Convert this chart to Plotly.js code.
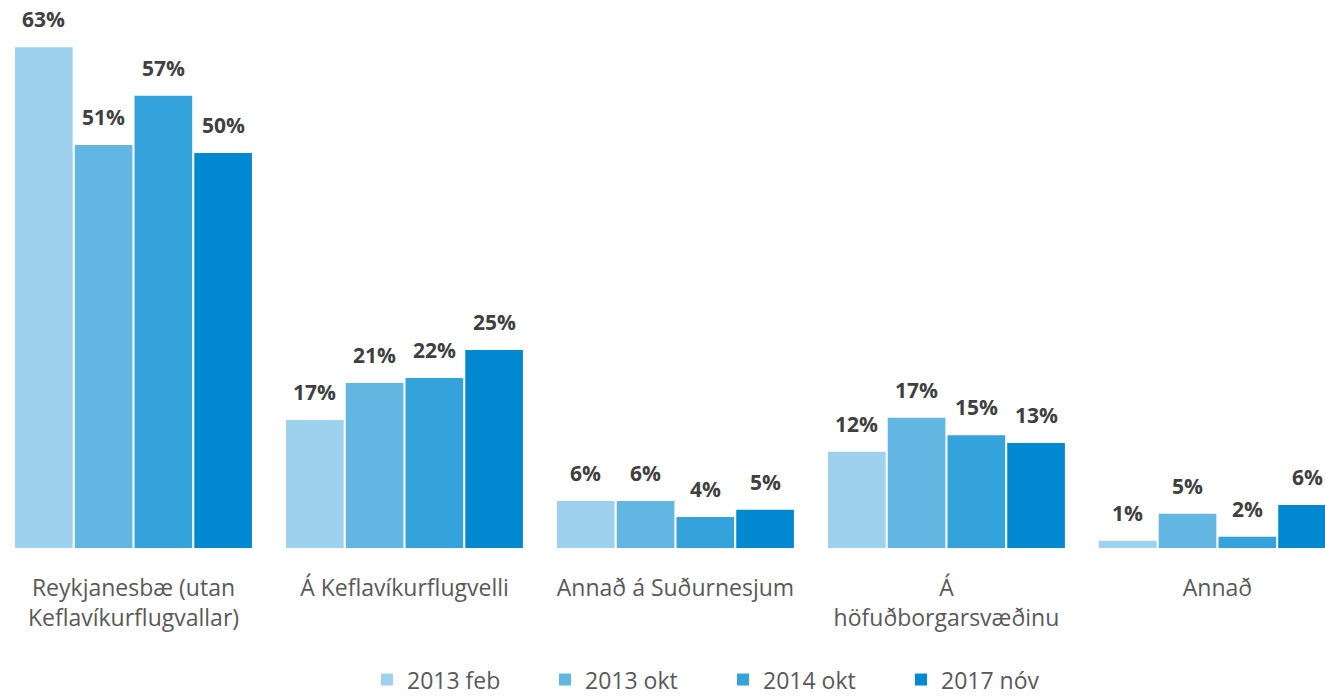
<!DOCTYPE html>
<html><head><meta charset="utf-8">
<script src="https://cdn.plot.ly/plotly-3.0.1.min.js"></script>
<style>html,body{margin:0;padding:0;background:#fff}#chart{width:1325px;height:697px}</style>
</head><body><div id="chart"></div>
<script>
const categories = ["Reykjanesbæ (utan<br>Keflavíkurflugvallar)", "Á Keflavíkurflugvelli", "Annað á Suðurnesjum", "Á<br>höfuðborgarsvæðinu", "Annað"];
const seriesNames = ["2013 feb", "2013 okt", "2014 okt", "2017 nóv"];
// bar heights
const s2013feb = [63.0, 16.1, 5.9, 12.1, 0.9];
const s2013okt = [50.7, 20.75, 5.9, 16.4, 4.3];
const s2014okt = [56.9, 21.4, 3.9, 14.2, 1.4];
const s2017nov = [49.7, 24.9, 4.8, 13.2, 5.4];
// printed labels
const l2013feb = ["63%", "17%", "6%", "12%", "1%"];
const l2013okt = ["51%", "21%", "6%", "17%", "5%"];
const l2014okt = ["57%", "22%", "4%", "15%", "2%"];
const l2017nov = ["50%", "25%", "5%", "13%", "6%"];
const colors = ["#9DD1EE", "#64B6E2", "#34A2DB", "#0088D0"];

const allSeries = [s2013feb, s2013okt, s2014okt, s2017nov];
const allLabels = [l2013feb, l2013okt, l2014okt, l2017nov];
const catIdx = categories.map((c, i) => i);
const traces = allSeries.map((vals, k) => ({
  type: 'bar', name: seriesNames[k], x: catIdx, y: vals,
  marker: {color: colors[k], line: {width: 0}},
  hoverinfo: 'none'
}));

const annotations = [];
const offsets = [-1.5, -0.5, 0.5, 1.5];
allSeries.forEach((vals, k) => {
  vals.forEach((v, i) => {
    annotations.push({
      x: i, y: v, xref: 'x', yref: 'y', text: '<b>' + allLabels[k][i] + '</b>',
      showarrow: false, xshift: offsets[k] * 60, yshift: 28, yanchor: 'middle',
      font: {family: 'Open Sans, sans-serif', size: 21, color: '#404040'}
    });
  });
});

const layout = {
  width: 1325, height: 697,
  margin: {l: 0, r: 0, t: 10, b: 149, autoexpand: false},
  barmode: 'group', bargap: 0.118, bargroupgap: 0.035,
  plot_bgcolor: '#fff', paper_bgcolor: '#fff',
  showlegend: true,
  legend: {orientation: 'h', x: 0.277, xanchor: 'left', yref: 'container', y: 0.025, yanchor: 'middle',
    font: {family: 'Open Sans, sans-serif', size: 23, color: '#595959'}, traceorder: 'normal',
    itemwidth: 30, entrywidth: 133, entrywidthmode: 'pixels'},
  xaxis: {range: [-0.4926, 4.397], tickmode: 'array', tickvals: catIdx, ticktext: categories,
    showgrid: false, zeroline: false, showline: false, ticks: '', ticklabelstandoff: 24, automargin: false,
    tickfont: {family: 'Open Sans, sans-serif', size: 23, color: '#595959'}, fixedrange: true},
  yaxis: {range: [0, 67.7], visible: false, showgrid: false, zeroline: false, fixedrange: true, automargin: false},
  annotations: annotations
};
Plotly.newPlot('chart', traces, layout, {displayModeBar: false, staticPlot: true});
</script></body></html>
